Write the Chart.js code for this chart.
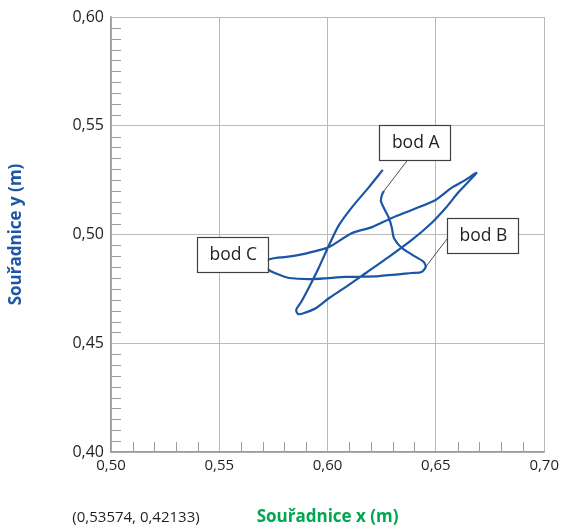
<!DOCTYPE html>
<html>
<head>
<meta charset="utf-8">
<script src="https://cdn.jsdelivr.net/npm/chart.js@4/dist/chart.umd.min.js"></script>
<style>
html,body{margin:0;padding:0;background:#ffffff;}
#wrap{width:564px;height:526px;position:relative;}
</style>
</head>
<body>
<div id="wrap"><canvas id="c" width="564" height="526"></canvas></div>
<script>
// ---- data ----
const xValues = [
  0.6255, 0.6191, 0.6113, 0.6053, 0.6007, 0.5961, 0.5915, 0.5878, 0.5855, 0.5864,
  0.5892, 0.5947, 0.6007, 0.6085, 0.6177, 0.6283, 0.6389, 0.6480, 0.6545, 0.6605,
  0.6687, 0.6637, 0.6572, 0.6499, 0.6389, 0.6297, 0.6205, 0.6113, 0.6007, 0.5929,
  0.5869, 0.5809, 0.5759, 0.5722, 0.5703, 0.5722, 0.5768, 0.5823, 0.5929, 0.6085,
  0.6237, 0.6389, 0.6434, 0.6453, 0.6444, 0.6407, 0.6343, 0.6306, 0.6297, 0.6283,
  0.6260, 0.6246, 0.6251, 0.6260
];
const yValues = [
  0.5297, 0.5218, 0.5126, 0.5044, 0.4952, 0.4851, 0.4759, 0.4690, 0.4653, 0.4634,
  0.4639, 0.4662, 0.4708, 0.4759, 0.4823, 0.4897, 0.4975, 0.5053, 0.5122, 0.5195,
  0.5283, 0.5251, 0.5214, 0.5159, 0.5113, 0.5076, 0.5034, 0.5007, 0.4943, 0.4920,
  0.4906, 0.4897, 0.4892, 0.4883, 0.4864, 0.4841, 0.4818, 0.4800, 0.4795, 0.4805,
  0.4809, 0.4823, 0.4828, 0.4851, 0.4874, 0.4897, 0.4938, 0.4984, 0.5030, 0.5076,
  0.5122, 0.5154, 0.5182, 0.5200
];
const xTickValues = [0.50, 0.55, 0.60, 0.65, 0.70];
const xTickLabels = ['0,50', '0,55', '0,60', '0,65', '0,70'];
const yTickValues = [0.40, 0.45, 0.50, 0.55, 0.60];
const yTickLabels = ['0,40', '0,45', '0,50', '0,55', '0,60'];
const pointLabels = ['bod A', 'bod B', 'bod C'];
const pointX = [0.6260, 0.6453, 0.5703];
const pointY = [0.5200, 0.4851, 0.4864];
const cursorReadout = '(0,53574, 0,42133)';
const xTitle = 'Souřadnice x (m)';
const yTitle = 'Souřadnice y (m)';

// ---- callout placement (data units) ----
const calloutBoxes = [
  {cx: 0.6402, cy: 0.5423, lx: 0.6370, ly: 0.5343},
  {cx: 0.6715, cy: 0.4996, lx: 0.6551, ly: 0.4979},
  {cx: 0.5560, cy: 0.4907, lx: null, ly: null}
];

const FONT = "'Open Sans', 'DejaVu Sans', sans-serif";
const points = xValues.map((v, i) => ({x: v, y: yValues[i]}));

const minorTicks = {
  id: 'minorTicks',
  afterDatasetsDraw(chart) {
    const {ctx, chartArea: a, scales: {x, y}} = chart;
    ctx.save();
    ctx.strokeStyle = '#9c9c9c';
    ctx.lineWidth = 1;
    ctx.beginPath();
    for (let i = 1; i < 20; i++) {
      if (i % 5 === 0) continue;
      const px = Math.round(x.getPixelForValue(0.5 + i * 0.01)) + 0.5;
      ctx.moveTo(px, a.bottom);
      ctx.lineTo(px, a.bottom - 10);
    }
    for (let i = 1; i < 40; i++) {
      if (i % 10 === 0) continue;
      const py = Math.round(y.getPixelForValue(0.4 + i * 0.005)) + 0.5;
      ctx.moveTo(a.left, py);
      ctx.lineTo(a.left + 10, py);
    }
    ctx.stroke();
    ctx.restore();
  }
};

const callouts = {
  id: 'callouts',
  afterDatasetsDraw(chart) {
    const {ctx, scales: {x, y}} = chart;
    ctx.save();
    pointLabels.forEach((label, i) => {
      const b = calloutBoxes[i];
      const bx = x.getPixelForValue(b.cx), by = y.getPixelForValue(b.cy);
      const w = 71, h = 35;
      if (b.lx !== null) {
        ctx.beginPath();
        ctx.strokeStyle = '#3a3a3a';
        ctx.lineWidth = 0.9;
        ctx.moveTo(x.getPixelForValue(pointX[i]), y.getPixelForValue(pointY[i]));
        ctx.lineTo(x.getPixelForValue(b.lx), y.getPixelForValue(b.ly));
        ctx.stroke();
      }
      ctx.fillStyle = '#ffffff';
      ctx.fillRect(bx - w / 2, by - h / 2, w, h);
      ctx.strokeStyle = '#404040';
      ctx.lineWidth = 1.2;
      ctx.strokeRect(Math.round(bx - w / 2) + 0.5, Math.round(by - h / 2) + 0.5, w, h);
      ctx.fillStyle = '#231f20';
      ctx.font = "17.5px " + FONT;
      ctx.textAlign = 'center';
      ctx.textBaseline = 'middle';
      ctx.fillText(label, bx + 1, by + 0.5);
    });
    ctx.restore();
  }
};

const readout = {
  id: 'readout',
  afterDraw(chart) {
    const {ctx} = chart;
    ctx.save();
    ctx.fillStyle = '#231f20';
    ctx.font = "15px " + FONT;
    ctx.textAlign = 'center';
    ctx.textBaseline = 'middle';
    ctx.fillText(cursorReadout, 136, 518);
    ctx.restore();
  }
};

new Chart(document.getElementById('c'), {
  type: 'scatter',
  data: {
    datasets: [{
      data: points,
      showLine: true,
      borderColor: '#1a55a6',
      borderWidth: 2.2,
      pointRadius: 0,
      tension: 0.25,
      fill: false
    }]
  },
  options: {
    responsive: false,
    animation: false,
    devicePixelRatio: 1,
    layout: {padding: {left: 0, right: 18, top: 17, bottom: 0}},
    plugins: {legend: {display: false}, tooltip: {enabled: false}},
    scales: {
      x: {
        type: 'linear',
        min: 0.5, max: 0.7,
        afterBuildTicks: s => { s.ticks = xTickValues.map(v => ({value: v})); },
        afterFit: s => { s.height = 74; },
        ticks: {
          callback: (v, i) => xTickLabels[i],
          color: '#231f20',
          font: {family: FONT, size: 15},
          padding: 5,
          maxRotation: 0
        },
        grid: {color: '#b9b9b9', lineWidth: 1, drawTicks: false},
        border: {display: true, color: '#9c9c9c', width: 1.5},
        title: {
          display: true,
          text: xTitle,
          color: '#00a651',
          font: {family: FONT, size: 17, weight: 'bold', lineHeight: 1},
          padding: {top: 0, bottom: 0}
        }
      },
      y: {
        type: 'linear',
        min: 0.4, max: 0.6,
        afterBuildTicks: s => { s.ticks = yTickValues.map(v => ({value: v})); },
        afterFit: s => { s.width = 111; },
        ticks: {
          callback: (v, i) => yTickLabels[i],
          color: '#231f20',
          font: {family: FONT, size: 16},
          padding: 7
        },
        grid: {color: '#b9b9b9', lineWidth: 1, drawTicks: false},
        border: {display: true, color: '#9c9c9c', width: 1.5},
        title: {
          display: true,
          text: yTitle,
          color: '#1d56a5',
          font: {family: FONT, size: 17, weight: 'bold', lineHeight: 1},
          padding: {top: 8, bottom: 0}
        }
      }
    }
  },
  plugins: [minorTicks, callouts, readout]
});
</script>
</body>
</html>
